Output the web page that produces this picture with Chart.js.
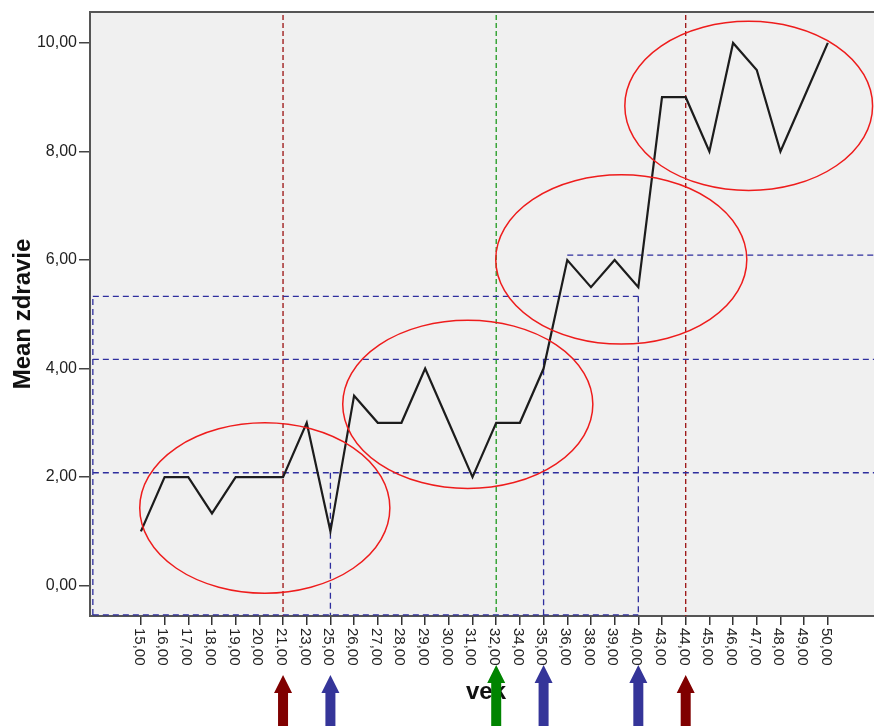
<!DOCTYPE html>
<html>
<head>
<meta charset="utf-8">
<script src="https://cdn.jsdelivr.net/npm/chart.js@4.4.1/dist/chart.umd.min.js"></script>
<style>
  html, body { margin: 0; padding: 0; background: #fff; overflow: hidden; }
  #obal { width: 874px; height: 726px; }
</style>
</head>
<body>
<div id="obal"><canvas id="graf" width="874" height="726"></canvas></div>
<script>
// ================= DATA =================
// vekové kategórie (os x)
const vek = ['15,00', '16,00', '17,00', '18,00', '19,00', '20,00', '21,00', '23,00', '25,00', '26,00',
             '27,00', '28,00', '29,00', '30,00', '31,00', '32,00', '34,00', '35,00', '36,00', '38,00',
             '39,00', '40,00', '43,00', '44,00', '45,00', '46,00', '47,00', '48,00', '49,00', '50,00'];
// priemerné zdravie pre každý vek
const zdravie = [1, 2, 2, 1.33, 2, 2, 2, 3, 1, 3.5,
                 3, 3, 4, 3, 2, 3, 3, 4, 6, 5.5,
                 6, 5.5, 9, 9, 8, 10, 9.5, 8, 9, 10];
const yTicks = [0, 2, 4, 6, 8, 10];

// zvislé čiarkované čiary cez celý graf (vek, farba)
const zvisleCiary = [['21,00', '#9a1010'], ['32,00', '#1f9a1f'], ['44,00', '#9a1010']];
// modré vodorovné úseky: [úroveň, od veku, po veku]  (null = okraj grafu)
const modreVodorovne = [[2.08, null, null], [4.17, null, null], [5.33, null, '40,00'], [6.09, '36,00', null]];
// modré zvislé úseky: [vek, po úroveň]
const modreZvisle = [['25,00', 2.08], ['35,00', 4.17], ['40,00', 5.33]];
// červené elipsy: [stred (index veku), stred (zdravie), polomer x, polomer y]
const elipsy = [[5.23, 1.43, 5.28, 1.57], [13.8, 3.34, 5.28, 1.55], [20.28, 6.01, 5.3, 1.56], [25.66, 8.84, 5.23, 1.56]];
// šípky pod osou: [vek, farba, vyššia]
const sipky = [['21,00', '#800000', false], ['25,00', '#353599', false], ['32,00', '#008400', true],
               ['35,00', '#353599', true], ['40,00', '#353599', true], ['44,00', '#800000', false]];

const ctx = document.getElementById('graf').getContext('2d');
const idx = v => vek.indexOf(v);
const obdlzLavy = -2.03;   // ľavý okraj modrého obdĺžnika (v indexoch)
const obdlzSpodok = -0.54; // spodok modrého obdĺžnika

function ciara(c, x1, y1, x2, y2, farba, dash, sirka) {
    c.save();
    c.strokeStyle = farba;
    c.lineWidth = sirka;
    c.setLineDash(dash);
    c.beginPath();
    c.moveTo(x1, y1);
    c.lineTo(x2, y2);
    c.stroke();
    c.restore();
}

const kresba = {
    id: 'kresba',
    beforeDraw(chart) {
        const { ctx: c, chartArea: a } = chart;
        c.save();
        c.fillStyle = '#f0f0f0';
        c.fillRect(a.left, a.top, a.right - a.left, a.bottom - a.top);
        c.restore();
    },
    beforeDatasetsDraw(chart) {
        const { ctx: c, chartArea: a, scales: { x, y } } = chart;
        const modra = '#2e2e9e';
        const d = [6, 4];
        // zvislé čiary cez celý graf
        zvisleCiary.forEach(([v, f]) => {
            const px = x.getPixelForValue(idx(v));
            ciara(c, px, a.top + 3, px, a.bottom, f, [5, 3], 1.3);
        });
        // modrý obdĺžnik a úrovne
        const lx = x.getPixelForValue(obdlzLavy);
        const sy = y.getPixelForValue(obdlzSpodok);
        ciara(c, lx, sy, lx, y.getPixelForValue(5.33), modra, d, 1.3);
        ciara(c, lx, sy, x.getPixelForValue(idx('40,00')), sy, modra, d, 1.3);
        modreVodorovne.forEach(([u, od, po]) => {
            const py = y.getPixelForValue(u);
            const x1 = od ? x.getPixelForValue(idx(od)) : lx;
            const x2 = po ? x.getPixelForValue(idx(po)) : a.right;
            ciara(c, x1, py, x2, py, modra, d, 1.3);
        });
        modreZvisle.forEach(([v, u]) => {
            const px = x.getPixelForValue(idx(v));
            ciara(c, px, y.getPixelForValue(u), px, sy, modra, d, 1.3);
        });
    },
    afterDraw(chart) {
        const { ctx: c, chartArea: a, scales: { x, y } } = chart;
        // horný okraj
        ciara(c, a.left - 1, a.top, a.right, a.top, '#555', [], 2);
        // elipsy
        c.save();
        c.strokeStyle = '#ee1c1c';
        c.lineWidth = 1.5;
        elipsy.forEach(([ex, ey, rx, ry]) => {
            const cx = x.getPixelForValue(ex), cy = y.getPixelForValue(ey);
            const prx = x.getPixelForValue(ex + rx) - cx;
            const pry = cy - y.getPixelForValue(ey + ry);
            c.beginPath();
            c.ellipse(cx, cy, prx, pry, 0, 0, Math.PI * 2);
            c.stroke();
        });
        c.restore();
        // popisy osi x (otočené)
        c.save();
        c.fillStyle = '#222';
        c.font = '15px "Liberation Sans", Arial, sans-serif';
        c.textAlign = 'left';
        c.textBaseline = 'middle';
        vek.forEach((v, i) => {
            const px = x.getPixelForValue(i);
            c.save();
            c.translate(px - 2, a.bottom + 12);
            c.rotate(Math.PI / 2);
            c.fillText(v, 0, 0);
            c.restore();
        });
        // názov osi x
        c.font = 'bold 24px "Liberation Sans", Arial, sans-serif';
        c.fillStyle = '#111';
        c.textAlign = 'center';
        c.fillText('vek', (a.left + a.right) / 2 + 4, a.bottom + 76);
        c.restore();
        // šípky
        sipky.forEach(([v, f, vyssia]) => {
            const px = x.getPixelForValue(idx(v));
            const top = a.bottom + (vyssia ? 49 : 59);
            const hlava = 18, pol = 9, drik = 5;
            c.save();
            c.fillStyle = f;
            c.beginPath();
            c.moveTo(px, top);
            c.lineTo(px + pol, top + hlava);
            c.lineTo(px + drik, top + hlava);
            c.lineTo(px + drik, chart.height);
            c.lineTo(px - drik, chart.height);
            c.lineTo(px - drik, top + hlava);
            c.lineTo(px - pol, top + hlava);
            c.closePath();
            c.fill();
            c.restore();
        });
    }
};

new Chart(ctx, {
    type: 'line',
    data: {
        datasets: [{
            data: zdravie.map((v, i) => ({ x: i, y: v })),
            borderColor: '#1c1c1c',
            borderWidth: 2.2,
            pointRadius: 0,
            tension: 0,
            fill: false
        }]
    },
    options: {
        responsive: false,
        animation: false,
        layout: { padding: { top: 12, left: 0, right: 0, bottom: 0 } },
        scales: {
            x: {
                type: 'linear',
                min: -2.15,
                max: 30.95,
                afterBuildTicks: s => { s.ticks = vek.map((_, i) => ({ value: i })); },
                afterFit: s => { s.height = 110; },
                ticks: { display: false },
                grid: { drawOnChartArea: false, tickLength: 9, color: '#333', lineWidth: 1.5 },
                border: { color: '#555', width: 2 }
            },
            y: {
                min: -0.56,
                max: 10.57,
                afterBuildTicks: s => { s.ticks = yTicks.map(v => ({ value: v })); },
                afterFit: s => { s.width = 90; },
                ticks: {
                    callback: v => v.toFixed(2).replace('.', ','),
                    color: '#222',
                    font: { family: '"Liberation Sans", Arial, sans-serif', size: 16 },
                    padding: 2
                },
                grid: { drawOnChartArea: false, tickLength: 11, color: '#444', lineWidth: 1.5 },
                border: { color: '#555', width: 2 },
                title: {
                    display: true,
                    text: 'Mean zdravie',
                    color: '#111',
                    font: { family: '"Liberation Sans", Arial, sans-serif', size: 24, weight: 'bold' },
                    padding: { top: 9, bottom: 0 }
                }
            }
        },
        plugins: { legend: { display: false }, tooltip: { enabled: false } }
    },
    plugins: [kresba]
});
</script>
</body>
</html>
